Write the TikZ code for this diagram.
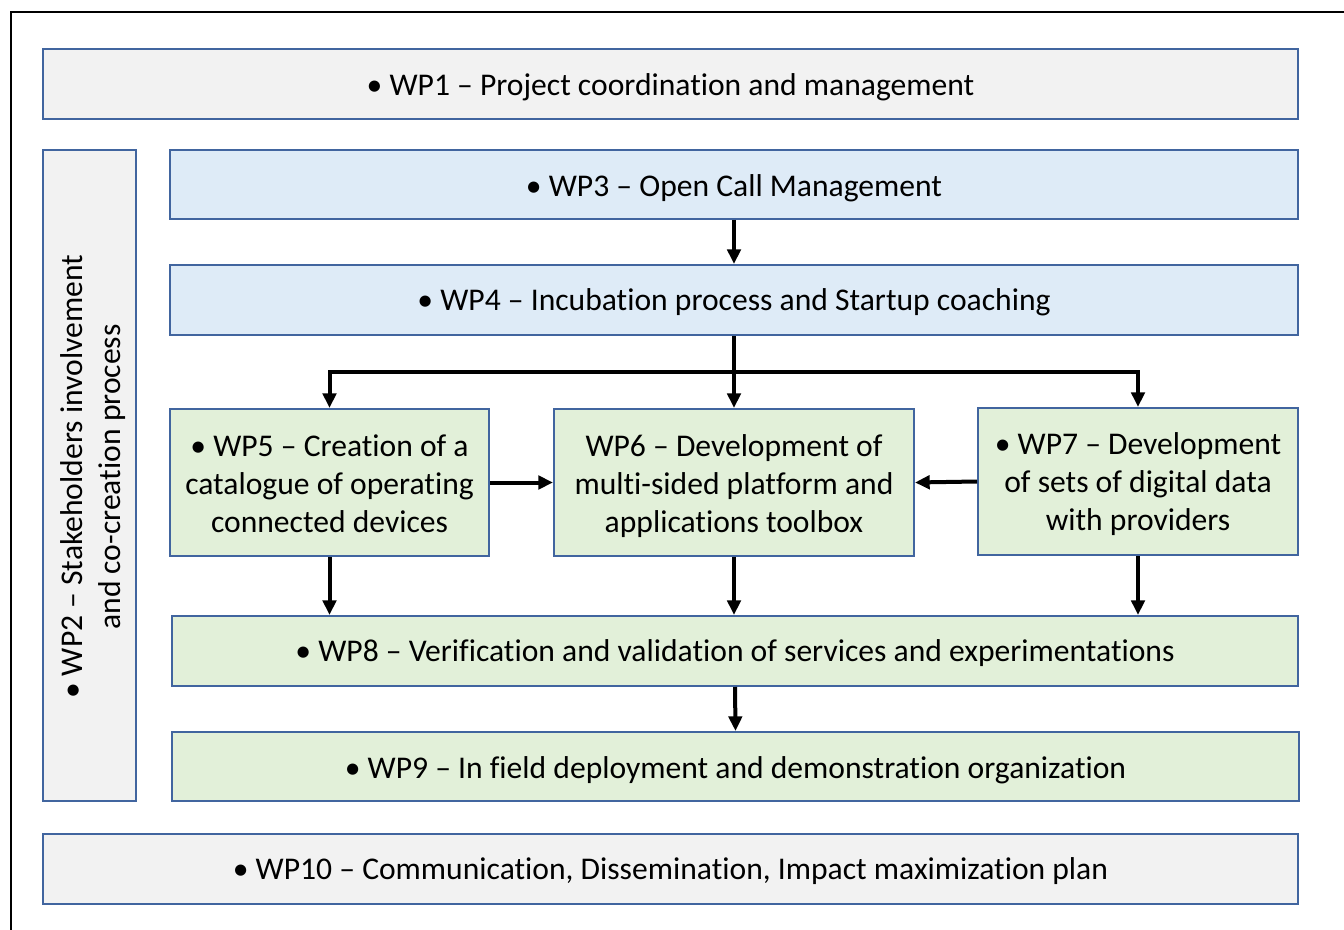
\documentclass[tikz,border=0pt]{standalone}
\usepackage{fontspec}
\setmainfont{Carlito}[Ligatures=CommonOff]
\usetikzlibrary{arrows.meta}
\definecolor{bord}{HTML}{41659F}
\definecolor{fgray}{HTML}{F2F2F2}
\definecolor{fblue}{HTML}{DEEBF7}
\definecolor{fgreen}{HTML}{E2F0D9}
\newcommand{\dntext}[2][2.25pt]{\raisebox{-#1}[\height][\depth]{\begin{tabular}{@{}c@{}}#2\end{tabular}}}
\tikzset{
  box/.style={draw=bord, line width=1.5pt, inner sep=0pt, align=center,
    font=\fontsize{23.7}{28.5}\selectfont},
  gbox/.style={box, fill=fgray},
  bbox/.style={box, fill=fblue},
  grbox/.style={box, fill=fgreen},
  arr/.style={line width=3pt, -{Triangle[length=11pt,width=10pt]}},
  frameline/.style={line width=2pt}
}
\begin{document}
\begin{tikzpicture}[x=0.75pt,y=-0.75pt]
\useasboundingbox (0,0) rectangle (1344,930);
\draw[frameline] (11,930) -- (11,12) -- (1344,12);
\node[gbox, minimum width=941.25pt, minimum height=52.5pt] (wp1) at (670.5,84) {\dntext[2.8pt]{• WP1 – Project coordination and management}};
\node[gbox, minimum width=69.75pt, minimum height=488.25pt] (wp2) at (89.5,475.5) {};
\node[rotate=90, align=center, font=\fontsize{23.7}{28.5}\selectfont, inner sep=0pt] (wp2t) at (93,477) {• WP2 – Stakeholders involvement\\and co-creation process};
\node[bbox, minimum width=846pt, minimum height=51.75pt] (wp3) at (734,184.5) {\dntext[3.3pt]{• WP3 – Open Call Management}};
\node[bbox, minimum width=846pt, minimum height=52.5pt] (wp4) at (734,300) {\dntext{• WP4 – Incubation process and Startup coaching}};
\node[grbox, minimum width=239.25pt, minimum height=110.25pt] (wp5) at (329.5,482.5) {\dntext[3pt]{• WP5 – Creation of a\\catalogue of operating\\connected devices}};
\node[grbox, minimum width=270pt, minimum height=110.25pt] (wp6) at (734,482.5) {\dntext[3pt]{WP6 – Development of\\multi-sided platform and\\applications toolbox}};
\node[grbox, minimum width=240pt, minimum height=110.25pt] (wp7) at (1138,481.5) {\dntext{• WP7 – Development\\of sets of digital data\\with providers}};
\node[grbox, minimum width=844.5pt, minimum height=52.5pt] (wp8) at (735,651) {\dntext[1.8pt]{• WP8 – Verification and validation of services and experimentations}};
\node[grbox, minimum width=845.25pt, minimum height=51.75pt] (wp9) at (735.5,766.5) {\dntext[3.3pt]{• WP9 – In field deployment and demonstration organization}};
\node[gbox, minimum width=941.25pt, minimum height=52.5pt] (wp10) at (670.5,869) {\dntext[1.8pt]{• WP10 – Communication, Dissemination, Impact maximization plan}};
\coordinate (j) at (735,372);
\draw[arr] (wp3.south) -- (wp4.north);
\draw[arr] (wp4.south) -- (wp6.north);
\draw[arr] (j) -| (wp5.north);
\draw[arr] (j) -| (wp7.north);
\draw[arr] (wp5.east) -- (wp6.west);
\draw[arr] (wp7.west) -- (wp6.east);
\draw[arr] (wp5.south) -- (wp5.south |- wp8.north);
\draw[arr] (wp6.south) -- (wp6.south |- wp8.north);
\draw[arr] (wp7.south) -- (wp7.south |- wp8.north);
\draw[arr] (wp8.south) -- (wp9.north);
\end{tikzpicture}
\end{document}
